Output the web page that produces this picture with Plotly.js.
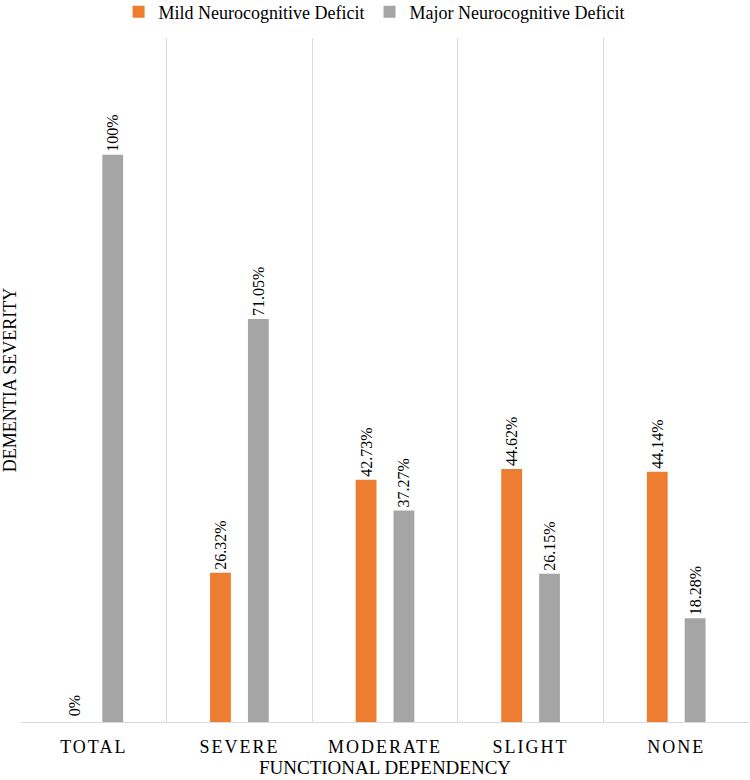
<!DOCTYPE html>
<html>
<head>
<meta charset="utf-8">
<script src="https://cdn.plot.ly/plotly-3.0.1.min.js"></script>
<style>
  body { margin: 0; background: #fff; }
  #chart { width: 750px; height: 780px; }
  #chart .xtick text { letter-spacing: 2px; }
</style>
</head>
<body>
<div id="chart"></div>
<script>
const categories = ['TOTAL', 'SEVERE', 'MODERATE', 'SLIGHT', 'NONE'];
const mild = [0, 26.32, 42.73, 44.62, 44.14];
const major = [100, 71.05, 37.27, 26.15, 18.28];

const fmt = v => (Math.round(v * 100) / 100) + '%';
const serif = "'Liberation Serif', 'Times New Roman', serif";

// zero-height bars do not rotate their outside text, so those labels go in as annotations
const barTrace = (name, values, color) => ({
  type: 'bar',
  name: name,
  x: categories,
  y: values,
  text: values.map(v => v === 0 ? '' : fmt(v)),
  textposition: 'outside',
  textangle: -90,
  constraintext: 'none',
  cliponaxis: false,
  textfont: { family: serif, size: 16, color: '#000' },
  marker: { color: color },
  hoverinfo: 'none'
});

const data = [
  barTrace('Mild Neurocognitive Deficit', mild, '#ED7D31'),
  barTrace('Major Neurocognitive Deficit', major, '#A5A5A5')
];

const zeroLabels = [];
categories.forEach((c, i) => {
  if (mild[i] === 0) zeroLabels.push({ x: c, y: mild[i], xshift: -19 });
  if (major[i] === 0) zeroLabels.push({ x: c, y: major[i], xshift: 19 });
});

const layout = {
  width: 750,
  height: 780,
  margin: { l: 21, r: 1, t: 38, b: 58, autoexpand: false },
  paper_bgcolor: '#fff',
  plot_bgcolor: '#fff',
  font: { family: serif, size: 15, color: '#000' },
  barmode: 'group',
  bargap: 0.48,
  bargroupgap: 0.45,
  showlegend: true,
  legend: {
    orientation: 'h',
    x: 0.485, xanchor: 'center',
    y: 1.038, yanchor: 'middle',
    font: { family: serif, size: 18, color: '#000' },
    itemwidth: 30
  },
  annotations: zeroLabels.map(a => ({
    x: a.x, y: a.y, xref: 'x', yref: 'y',
    xshift: a.xshift, yshift: 4,
    text: fmt(a.y),
    textangle: -90,
    showarrow: false,
    xanchor: 'center', yanchor: 'bottom',
    font: { family: serif, size: 16, color: '#000' }
  })),
  xaxis: {
    type: 'category',
    range: [-0.5, 4.5],
    tickson: 'boundaries',
    showgrid: true,
    gridcolor: '#d9d9d9',
    showline: true,
    linecolor: '#d9d9d9',
    ticks: '',
    ticklabelstandoff: 8,
    tickfont: { family: serif, size: 18, color: '#000' },
    title: { text: 'FUNCTIONAL DEPENDENCY', font: { family: serif, size: 19, color: '#000' }, standoff: 4 }
  },
  yaxis: {
    range: [0, 120.6],
    showgrid: false,
    zeroline: false,
    showticklabels: false,
    ticks: '',
    title: { text: 'DEMENTIA SEVERITY', font: { family: serif, size: 18, color: '#000' }, standoff: 2 }
  }
};

Plotly.newPlot('chart', data, layout, { displayModeBar: false, staticPlot: true });
</script>
</body>
</html>
